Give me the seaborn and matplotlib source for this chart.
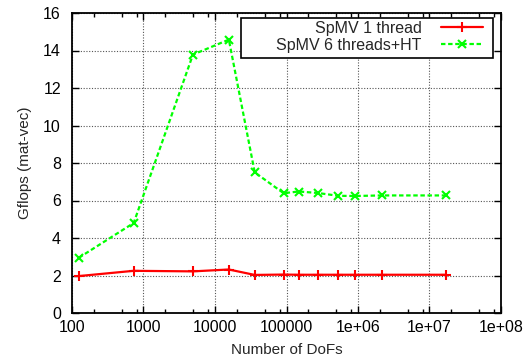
import matplotlib
matplotlib.use("Agg")
import matplotlib.pyplot as plt
import seaborn as sns
import pandas as pd
from matplotlib.patches import Rectangle
from matplotlib.ticker import FixedLocator, FixedFormatter, NullFormatter

dofs = [125, 729, 4913, 15625, 35937, 91125, 148877, 274625, 531441, 912673, 2146689, 16974593]
gflops_1thread = [1.97, 2.25, 2.22, 2.32, 2.03, 2.05, 2.04, 2.04, 2.04, 2.04, 2.04, 2.04]
gflops_6threads = [2.95, 4.8, 13.78, 14.58, 7.5, 6.39, 6.48, 6.4, 6.25, 6.24, 6.27, 6.27]
series_names = ["SpMV 1 thread", "SpMV 6 threads+HT"]
xtick_values = [1e2, 1e3, 1e4, 1e5, 1e6, 1e7, 1e8]
xtick_labels = ["100", "1000", "10000", "100000", "1e+06", "1e+07", "1e+08"]
ytick_values = [0, 2, 4, 6, 8, 10, 12, 14, 16]

sns.set_theme(style="ticks")
plt.rcParams['font.family'] = ['Liberation Sans', 'DejaVu Sans']

df1 = pd.DataFrame({"dofs": dofs, "gflops": gflops_1thread})
df6 = pd.DataFrame({"dofs": dofs, "gflops": gflops_6threads})

W, H = 529, 359
fig = plt.figure(figsize=(W/100, H/100), dpi=100)
ax = fig.add_axes([72/W, 1-313/H, (501-72)/W, (313-13)/H])

sns.lineplot(data=df1, x="dofs", y="gflops", ax=ax, color="#ff0000", lw=1.6,
             marker="+", markersize=7, markeredgewidth=1.5, markeredgecolor="#ff0000",
             label=series_names[0])
sns.lineplot(data=df6, x="dofs", y="gflops", ax=ax, color="#00ff00", lw=1.6,
             marker="x", markersize=6, markeredgewidth=1.5, markeredgecolor="#00ff00",
             linestyle=(0, (2, 1.2)), label=series_names[1])

ax.set_xscale("log")
ax.set_xlim(1e2, 1e8)
ax.set_ylim(0, 16)
ax.xaxis.set_major_locator(FixedLocator(xtick_values))
ax.xaxis.set_major_formatter(FixedFormatter(xtick_labels))
minor = [m * 10**e for e in range(2, 8) for m in (2, 5, 8)]
ax.xaxis.set_minor_locator(FixedLocator(minor))
ax.xaxis.set_minor_formatter(NullFormatter())
ax.set_yticks(ytick_values)
ax.set_yticklabels([str(v) for v in ytick_values])

ax.grid(True, which="major", color="#555555", linestyle=(0, (1, 1.5)), lw=0.8)
for s in ax.spines.values():
    s.set_visible(True)
    s.set_color("black")
    s.set_linewidth(1.3)
ax.tick_params(which="both", direction="in", top=True, right=True, colors="black",
               labelsize=11.5, width=1)
ax.tick_params(which="major", length=5, pad=5)
ax.tick_params(axis="y", pad=8)
ax.tick_params(which="minor", length=3)

ax.set_xlabel("Number of DoFs", fontsize=11, labelpad=6)
ax.set_ylabel("Gflops (mat-vec)", fontsize=11, labelpad=8)

# legend box (gnuplot-style key)
ax.add_patch(Rectangle((241/W, 1-58/H), (493-241)/W, 40/H, transform=fig.transFigure,
                       facecolor="white", edgecolor="black", lw=1.2, zorder=5, clip_on=False))
leg = ax.legend(loc="upper right", bbox_to_anchor=(483/W, 1-21/H), bbox_transform=fig.transFigure,
                markerfirst=False, frameon=False,
                fontsize=11.5, handlelength=2.6, borderpad=0, labelspacing=0.1,
                handletextpad=1.25, borderaxespad=0)
leg.set_zorder(10)

fig.savefig("out.png", dpi=100)
